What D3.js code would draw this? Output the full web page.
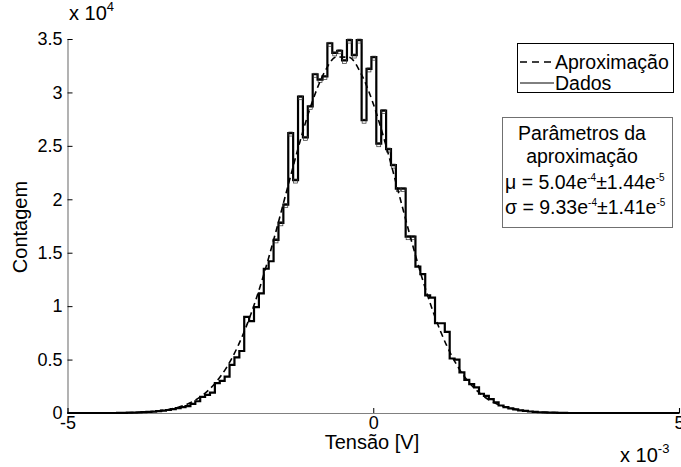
<!DOCTYPE html>
<html><head><meta charset="utf-8">
<script src="https://cdn.jsdelivr.net/npm/d3@7"></script>
<style>
html,body{margin:0;padding:0;background:#fff;}
svg{display:block;font-family:"Liberation Sans",Arial,Helvetica,sans-serif;}
</style></head>
<body><svg id="c" width="681" height="467"></svg>
<script>
// ---- data ----
// histogram bins (left edges, x 1e-3 V), width 0.08e-3
const binStart = -4.19;
const binWidth = 0.08;
const counts = [20,20,30,40,50,80,100,130,170,220,280,360,450,550,650,850,1100,1500,1700,1900,2800,3000,3400,4500,5200,5800,9000,8600,9900,11200,13500,14200,16200,17800,19500,26200,21800,29600,25800,28700,31700,31200,31500,34600,33700,33900,33000,34900,33500,34900,27400,32200,33300,25200,28300,24700,23200,21000,21000,16500,16500,13700,13000,11000,10800,8400,8400,7600,5100,5000,3800,3100,2700,2400,1800,1600,1300,1000,700,550,430,330,250,190,140,100,70,50,40,30,20,10];
// Gaussian fit samples
const fitX = [-5,-4.8,-4.6,-4.4,-4.2,-4,-3.8,-3.6,-3.4,-3.2,-3,-2.8,-2.6,-2.4,-2.2,-2,-1.8,-1.6,-1.4,-1.2,-1,-0.8,-0.6,-0.4,-0.2,0,0.2,0.4,0.6,0.8,1,1.2,1.4,1.6,1.8,2,2.2,2.4,2.6,2.8,3,3.2,3.4,3.6,3.8,4,4.2,4.4,4.6,4.8,5];
const fitY = [0,1,2,5,13,30,65,137,271,516,935,1627,2695,4253,6423,9268,12767,16805,21128,25368,29083,31856,33323,33293,31767,28945,25203,20936,16627,12611,9139,6322,4178,2642,1593,914,503,264,132,63,29,12,5,2,0,0,0,0,0,0,0];
const xTicks = [-5,0,5];
const yTicks = [0,5000,10000,15000,20000,25000,30000,35000];
const legendLabels = ["Aproxima\u00e7\u00e3o","Dados"];

// ---- layout ----
const svg = d3.select("#c");
const x = d3.scaleLinear().domain([-5,5]).range([67.5,679]);
const y = d3.scaleLinear().domain([0,35000]).range([413,39]);
const tickFont = 18, font = 20, boxFont = 19.5;
const FF = "Liberation Sans, Arial, sans-serif";

// stairs data
const stairs = [[-5,0],[binStart,0]];
counts.forEach((c,i)=>{
  const a = binStart + i*binWidth, b = a + binWidth;
  stairs.push([a,c]); stairs.push([b,c]);
});
stairs.push([binStart+counts.length*binWidth,0]);
stairs.push([5,0]);

// axes
const yAxis = d3.axisLeft(y).tickValues(yTicks).tickSize(-5).tickPadding(5)
  .tickFormat(d=>String(d/10000));
const gy = svg.append("g").attr("transform","translate(67.5,0)").call(yAxis);
gy.select(".domain").attr("stroke","#808080").attr("stroke-width",1.2);
gy.selectAll(".tick line").attr("stroke","#000");
gy.selectAll("text").attr("font-size",tickFont).attr("fill","#000").attr("font-family",FF);

const xAxis = d3.axisBottom(x).tickValues(xTicks).tickSize(-5).tickPadding(3)
  .tickFormat(d=>String(d));
const gx = svg.append("g").attr("transform","translate(0,413)").call(xAxis);
gx.select(".domain").attr("stroke","#808080").attr("stroke-width",1.2);
gx.selectAll(".tick line").attr("stroke","#000");
gx.selectAll("text").attr("font-size",tickFont).attr("fill","#000").attr("font-family",FF);

// data stairs
const line = d3.line().x(d=>x(d[0])).y(d=>y(d[1]));
svg.append("path").datum(stairs).attr("d",line)
  .attr("fill","none").attr("stroke","#000").attr("stroke-width",2.2).attr("stroke-linejoin","miter");

// small plateau boxes (overplotting look)
svg.append("g").selectAll("rect").data(counts.map((c,i)=>({c,i})).filter(d=>d.c>15000))
  .join("rect")
  .attr("x",d=>x(binStart+d.i*binWidth)+0.5)
  .attr("y",d=>y(d.c)-1)
  .attr("width",d=>x(binWidth)-x(0)-1)
  .attr("height",4)
  .attr("fill","none").attr("stroke","#333").attr("stroke-width",0.7);

// fit dashed
const fitLine = d3.line().x((d,i)=>x(fitX[i])).y(d=>y(d)).curve(d3.curveMonotoneX);
svg.append("path").datum(fitY).attr("d",fitLine)
  .attr("fill","none").attr("stroke","#000").attr("stroke-width",1.6).attr("stroke-dasharray","6,4");

// axis labels
svg.append("text").attr("x",372).attr("y",449).attr("text-anchor","middle").attr("font-size",font).text("Tens\u00e3o [V]");
svg.append("text").attr("transform","translate(27,227) rotate(-90)").attr("text-anchor","middle").attr("font-size",font).text("Contagem");
// multipliers
const m1 = svg.append("text").attr("x",69).attr("y",20).attr("font-size",font);
m1.append("tspan").text("x 10");
m1.append("tspan").attr("dy",-9).attr("font-size",13).text("4");
const m2 = svg.append("text").attr("x",620).attr("y",462).attr("font-size",font);
m2.append("tspan").text("x 10");
m2.append("tspan").attr("dy",-9).attr("font-size",13).text("-3");

// legend
const lg = svg.append("g");
lg.append("rect").attr("x",517.5).attr("y",43.5).attr("width",156).attr("height",49).attr("fill","#fff").attr("stroke","#000").attr("stroke-width",1);
lg.append("line").attr("x1",520).attr("x2",554).attr("y1",62).attr("y2",62).attr("stroke","#000").attr("stroke-width",1.6).attr("stroke-dasharray","7,5");
lg.append("line").attr("x1",520).attr("x2",554).attr("y1",83).attr("y2",83).attr("stroke","#000").attr("stroke-width",1);
lg.append("text").attr("x",555).attr("y",69).attr("font-size",boxFont).text(legendLabels[0]);
lg.append("text").attr("x",555).attr("y",90).attr("font-size",boxFont).text(legendLabels[1]);

// parameter box
const pb = svg.append("g");
pb.append("rect").attr("x",502.5).attr("y",117.5).attr("width",170).attr("height",110).attr("fill","#fff").attr("stroke","#707070").attr("stroke-width",1);
pb.append("text").attr("x",582).attr("y",140).attr("text-anchor","middle").attr("font-size",boxFont).text("Par\u00e2metros da");
pb.append("text").attr("x",582).attr("y",163).attr("text-anchor","middle").attr("font-size",boxFont).text("aproxima\u00e7\u00e3o");
function paramLine(yy, parts){
  const t = pb.append("text").attr("x",505).attr("y",yy).attr("font-size",boxFont);
  parts.forEach(p=>{
    const s = t.append("tspan").text(p[0]);
    if(p[1]==="sup"){ s.attr("dy",-8).attr("font-size",10); }
    if(p[1]==="base"){ s.attr("dy",8); }
  });
}
paramLine(189,[["\u03bc = 5.04e"],["-4","sup"],["\u00b11.44e","base"],["-5","sup"]]);
paramLine(214,[["\u03c3 = 9.33e"],["-4","sup"],["\u00b11.41e","base"],["-5","sup"]]);
</script></body></html>
